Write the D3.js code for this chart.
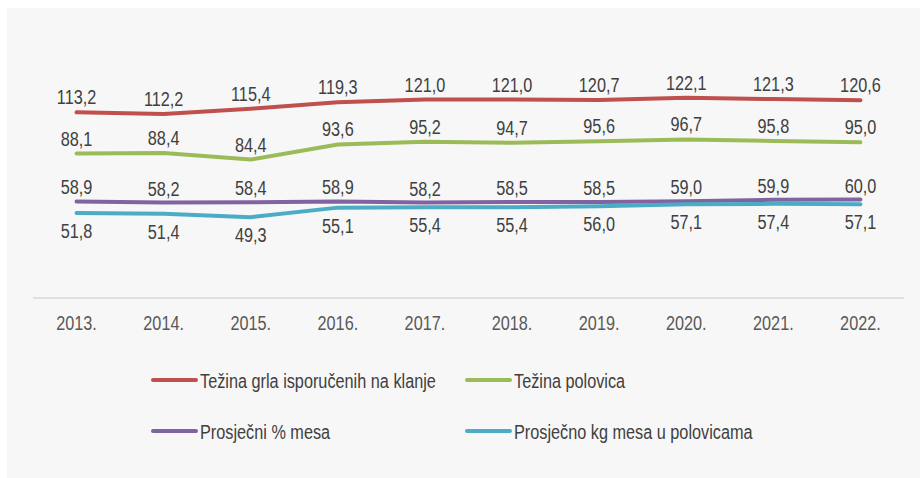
<!DOCTYPE html>
<html>
<head>
<meta charset="utf-8">
<script src="https://cdn.jsdelivr.net/npm/d3@7.9.0/dist/d3.min.js"></script>
<style>
  body { margin: 0; background: #fff; }
  text { font-family: "Liberation Sans", Arial, sans-serif; }
</style>
</head>
<body>
<div id="chart"></div>
<script>
const years = ['2013.', '2014.', '2015.', '2016.', '2017.', '2018.', '2019.', '2020.', '2021.', '2022.'];
const tezinaGrla = [113.2, 112.2, 115.4, 119.3, 121.0, 121.0, 120.7, 122.1, 121.3, 120.6];
const tezinaPolovica = [88.1, 88.4, 84.4, 93.6, 95.2, 94.7, 95.6, 96.7, 95.8, 95.0];
const postoMesa = [58.9, 58.2, 58.4, 58.9, 58.2, 58.5, 58.5, 59.0, 59.9, 60.0];
const kgMesa = [51.8, 51.4, 49.3, 55.1, 55.4, 55.4, 56.0, 57.1, 57.4, 57.1];
const seriesNames = ['Težina grla isporučenih na klanje', 'Težina polovica', 'Prosječni % mesa', 'Prosječno kg mesa u polovicama'];

const width = 920, height = 478;
const fontSize = 21;
const squeeze = 'scale(0.775, 1)'; // tall, narrow text like the original
const series = [
  { name: seriesNames[0], values: tezinaGrla, color: '#c0504d', dy: -8 },
  { name: seriesNames[1], values: tezinaPolovica, color: '#9bbb59', dy: -8 },
  { name: seriesNames[2], values: postoMesa, color: '#8064a2', dy: -7 },
  { name: seriesNames[3], values: kgMesa, color: '#4bacc6', dy: 25 }
];

const svg = d3.select('#chart').append('svg')
  .attr('width', width)
  .attr('height', height);

svg.append('rect')
  .attr('x', 7).attr('y', 8)
  .attr('width', width - 7).attr('height', height - 8)
  .attr('fill', '#f7f7f7');

const x = d3.scalePoint()
  .domain(years)
  .range([33, 904])
  .padding(0.5);

const y = d3.scaleLinear()
  .domain([0, 150])
  .range([298, 52]);

// category axis
svg.append('line')
  .attr('x1', 33).attr('x2', 904)
  .attr('y1', y(0)).attr('y2', y(0))
  .attr('stroke', '#d9d9d9')
  .attr('stroke-width', 1.5);

svg.selectAll('.year')
  .data(years)
  .enter()
  .append('text')
  .attr('class', 'year')
  .attr('transform', d => `translate(${x(d)}, ${y(0) + 32}) ${squeeze}`)
  .attr('text-anchor', 'middle')
  .attr('font-size', fontSize)
  .attr('fill', '#595959')
  .text(d => d);

const line = d3.line()
  .x((d, i) => x(years[i]))
  .y(d => y(d));

series.forEach(s => {
  svg.append('path')
    .datum(s.values)
    .attr('d', line)
    .attr('fill', 'none')
    .attr('stroke', s.color)
    .attr('stroke-width', 4)
    .attr('stroke-linecap', 'round')
    .attr('stroke-linejoin', 'round');
});

series.forEach(s => {
  svg.selectAll(null)
    .data(s.values)
    .enter()
    .append('text')
    .attr('transform', (d, i) => `translate(${x(years[i])}, ${y(d) + s.dy}) ${squeeze}`)
    .attr('text-anchor', 'middle')
    .attr('font-size', fontSize)
    .attr('fill', '#404040')
    .text(d => d.toFixed(1).replace('.', ','));
});

// legend
const legendPos = [[153, 380], [467, 380], [153, 431], [467, 431]];
series.forEach((s, i) => {
  const [lx, ly] = legendPos[i];
  const g = svg.append('g').attr('transform', `translate(${lx}, ${ly})`);
  g.append('line')
    .attr('x1', 0).attr('x2', 43)
    .attr('y1', 0).attr('y2', 0)
    .attr('stroke', s.color)
    .attr('stroke-width', 4)
    .attr('stroke-linecap', 'round');
  g.append('text')
    .attr('transform', `translate(47, 7.5) ${squeeze}`)
    .attr('font-size', fontSize)
    .attr('fill', '#404040')
    .text(s.name);
});
</script>
</body>
</html>
